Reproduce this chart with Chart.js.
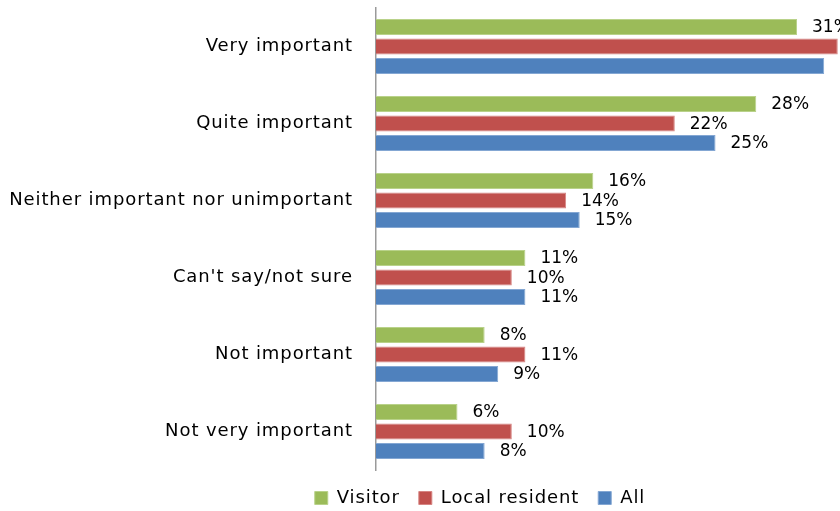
<!DOCTYPE html>
<html>
<head>
<meta charset="utf-8">
<script src="https://cdn.jsdelivr.net/npm/chart.js@4/dist/chart.umd.min.js"></script>
<style>
  html, body { margin: 0; padding: 0; background: #fff; overflow: hidden; }
  #wrap { width: 840px; height: 511px; overflow: hidden; }
</style>
</head>
<body>
<div id="wrap"><canvas id="chart" width="960" height="511"></canvas></div>
<script>
const categories = [
  "Very important",
  "Quite important",
  "Neither important nor unimportant",
  "Can't say/not sure",
  "Not important",
  "Not very important"
];
const visitor = [31, 28, 16, 11, 8, 6];
const localResident = [34, 22, 14, 10, 11, 10];
const all = [33, 25, 15, 11, 9, 8];

const FONT = "'DejaVu Sans', sans-serif";

// slightly looser letter spacing for axis and legend text
const spacing = {
  id: "spacing",
  beforeUpdate(chart) { chart.ctx.letterSpacing = "0.9px"; },
  beforeDraw(chart) { chart.ctx.letterSpacing = "0.9px"; }
};

// value labels drawn just past the end of each bar
const barLabels = {
  id: "barLabels",
  afterDatasetsDraw(chart) {
    const { ctx } = chart;
    ctx.save();
    ctx.letterSpacing = "0px";
    ctx.font = "17px " + FONT;
    ctx.fillStyle = "#000";
    ctx.textAlign = "left";
    ctx.textBaseline = "middle";
    chart.data.datasets.forEach((ds, i) => {
      chart.getDatasetMeta(i).data.forEach((bar, j) => {
        ctx.fillText(ds.data[j] + "%", bar.x + 15, bar.y + 1);
      });
    });
    ctx.restore();
  }
};

new Chart(document.getElementById("chart").getContext("2d"), {
  type: "bar",
  data: {
    labels: categories,
    datasets: [
      { label: "Visitor", data: visitor, backgroundColor: "#9bbb59", borderColor: "#b9d28a", borderWidth: 1 },
      { label: "Local resident", data: localResident, backgroundColor: "#c0504d", borderColor: "#d68583", borderWidth: 1 },
      { label: "All", data: all, backgroundColor: "#4f81bd", borderColor: "#84a7d3", borderWidth: 1 }
    ]
  },
  options: {
    indexAxis: "y",
    responsive: false,
    animation: false,
    devicePixelRatio: 1,
    categoryPercentage: 0.76,
    barPercentage: 0.82,
    layout: { padding: { top: 8, left: 0, right: 0, bottom: -6 } },
    scales: {
      x: { display: false, min: 0, max: 43 },
      y: {
        afterFit: (scale) => {
          scale.width = 376;
          scale.paddingTop = 0;
          scale.paddingBottom = 0;
        },
        grid: { display: false, drawTicks: false },
        border: { display: true, color: "#9a9a9a", width: 1.5 },
        ticks: { padding: 23, color: "#000", font: { family: FONT, size: 18 } }
      }
    },
    plugins: {
      legend: {
        position: "bottom",
        labels: {
          boxWidth: 13,
          boxHeight: 13,
          padding: 19,
          color: "#000",
          font: { family: FONT, size: 18 }
        }
      },
      tooltip: { enabled: false }
    }
  },
  plugins: [spacing, barLabels]
});
</script>
</body>
</html>
